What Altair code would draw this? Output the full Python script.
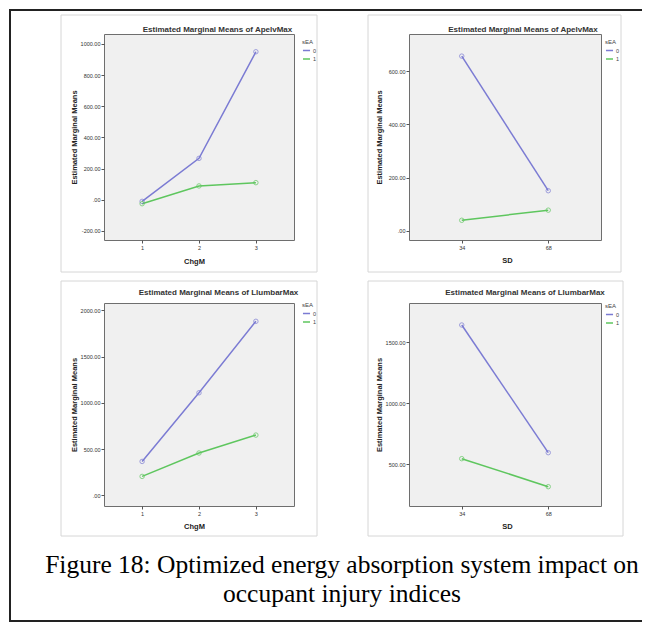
import altair as alt
import pandas as pd

# ---- data ----
chgm_levels = ["1", "2", "3"]
sd_levels = ["34", "68"]
sea_levels = ["0", "1"]

apelv_chgm_sea0 = [-10, 266, 950]
apelv_chgm_sea1 = [-25, 89, 110]
apelv_sd_sea0 = [656, 151]
apelv_sd_sea1 = [40, 78]
llumbar_chgm_sea0 = [366, 1108, 1881]
llumbar_chgm_sea1 = [204, 457, 651]
llumbar_sd_sea0 = [1639, 595]
llumbar_sd_sea1 = [546, 317]

apelv_chgm_ticks = [-200, 0, 200, 400, 600, 800, 1000]
apelv_sd_ticks = [0, 200, 400, 600]
llumbar_chgm_ticks = [0, 500, 1000, 1500, 2000]
llumbar_sd_ticks = [500, 1000, 1500]

caption = "Figure 18: Optimized energy absorption system impact on\noccupant injury indices"

C0 = "#7b7bd3"
C1 = "#5ec65e"
SANS = "Liberation Sans"
SERIF = "Liberation Serif"

label_expr = "datum.value == 0 ? '.00' : (datum.value < 0 ? '-' : '') + format(abs(datum.value), '.2f')"


def one_row(**kw):
    return pd.DataFrame([kw])


def make_panel(cats, s0, s1, xname, title, ydom, yticks, w, h, tpos, box, xtitle_x, xtitle_y,
               leg_xy, xpad, extra=None):
    rows = []
    for c, v in zip(cats, s0):
        rows.append({"x": c, "v": v, "sEA": "0"})
    for c, v in zip(cats, s1):
        rows.append({"x": c, "v": v, "sEA": "1"})
    df = pd.DataFrame(rows)

    x = alt.X("x:O", sort=cats,
              scale=alt.Scale(type="point", padding=xpad),
              axis=alt.Axis(title=xname, labelAngle=0, domain=False, grid=False,
                            labelFont=SANS, labelFontSize=5.5, labelColor="#333",
                            labelPadding=2, tickSize=3, tickColor="#555",
                            titleFont=SANS, titleFontSize=7.5, titleFontWeight="bold",
                            titleColor="#222", titleX=xtitle_x, titleY=xtitle_y,
                            titleBaseline="middle", titleAlign="center"))
    y = alt.Y("v:Q",
              scale=alt.Scale(domain=ydom, nice=False, zero=False),
              axis=alt.Axis(title="Estimated Marginal Means", values=yticks, labelExpr=label_expr,
                            domain=False, grid=False,
                            labelFont=SANS, labelFontSize=5.5, labelColor="#333",
                            labelPadding=1, tickSize=3, tickColor="#555",
                            titleFont=SANS, titleFontSize=7.5, titleFontWeight="bold",
                            titleColor="#222", titleX=-30, titleY=h / 2, titleAngle=-90,
                            titleBaseline="middle", titleAlign="center"))
    color_scale = alt.Scale(domain=sea_levels, range=[C0, C1])

    base = alt.Chart(df)
    lines = base.mark_line(strokeWidth=1.5).encode(
        x=x, y=y,
        color=alt.Color("sEA:N", scale=color_scale,
                        legend=alt.Legend(orient="none", legendX=leg_xy[0], legendY=leg_xy[1],
                                          title="sEA", titleFont=SANS, titleFontSize=6,
                                          titleFontWeight="normal", titleColor="#444",
                                          labelFont=SANS, labelFontSize=5.5, labelColor="#444",
                                          symbolType="stroke", symbolSize=50,
                                          symbolStrokeWidth=1.5, rowPadding=0.5,
                                          titlePadding=1, labelOffset=2, padding=0)))
    pts = base.mark_point(filled=False, size=20, strokeWidth=1).encode(
        x=x, y=y, color=alt.Color("sEA:N", scale=color_scale, legend=None))

    boxl = alt.Chart(one_row(a=1)).mark_rect(fillOpacity=0, stroke="#d6d6d6", strokeWidth=1).encode(
        x=alt.value(box[0]), y=alt.value(box[1]), x2=alt.value(box[2]), y2=alt.value(box[3]))
    ttl = alt.Chart(one_row(t=title)).mark_text(
        font=SANS, fontSize=8, fontWeight="bold", color="#333", align="center", baseline="middle"
    ).encode(x=alt.value(tpos[0]), y=alt.value(tpos[1]), text="t:N")

    layers = [boxl, lines, pts, ttl] + (extra or [])
    return alt.layer(*layers).properties(width=w, height=h)


# outer frame (three black bars) and caption, positioned relative to the first panel
FL, FR, FT, FB = -95, 538, -25, 588
frame_df = one_row(a=1)


def bar(x1, x2, y1, y2):
    return alt.Chart(frame_df).mark_rect(color="#222", strokeWidth=0).encode(
        x=alt.value(x1), x2=alt.value(x2), y=alt.value(y1), y2=alt.value(y2))


frame = [
    bar(FL, FR, FT, FT + 2),
    bar(FL, FL + 2, FT, FB),
    bar(FL, FR, FB - 2, FB),
    alt.Chart(one_row(t=caption)).mark_text(
        font=SERIF, fontSize=25.5, color="#000", align="center", baseline="alphabetic",
        lineBreak="\n", lineHeight=29
    ).encode(x=alt.value(238), y=alt.value(539), text="t:N"),
]

p1 = make_panel(chgm_levels, apelv_chgm_sea0, apelv_chgm_sea1, "ChgM",
                "Estimated Marginal Means of ApelvMax", [-258, 1064], apelv_chgm_ticks,
                190, 206, (113.5, -4), (-43, -19, 213, 238), 90, 21, (198, 5), 0.67, extra=frame)
p2 = make_panel(sd_levels, apelv_sd_sea0, apelv_sd_sea1, "SD",
                "Estimated Marginal Means of ApelvMax", [-34, 739], apelv_sd_ticks,
                192, 206, (114, -4), (-41, -19, 212, 238), 98, 20, (196, 5), 0.61)
p3 = make_panel(chgm_levels, llumbar_chgm_sea0, llumbar_chgm_sea1, "ChgM",
                "Estimated Marginal Means of LlumbarMax", [-116, 2079], llumbar_chgm_ticks,
                190, 203, (114.5, -9.7), (-43, -22, 213, 233), 90, 20, (198, -1), 0.67)
p4 = make_panel(sd_levels, llumbar_sd_sea0, llumbar_sd_sea1, "SD",
                "Estimated Marginal Means of LlumbarMax", [159, 1819], llumbar_sd_ticks,
                192, 203, (116, -9.7), (-41, -22, 214, 233), 98, 20, (196, 0), 0.61)

chart = alt.concat(
    p1, p2, p3, p4, columns=2, spacing={"row": 63, "column": 115}, bounds="flush", align="each"
).resolve_legend(color="independent").configure_view(
    fill="#f0f0f0", stroke="#6e6e6e", strokeWidth=1
).properties(padding=0, background="white")

chart.save("out.html", embed_options={"renderer": "svg", "actions": False})
